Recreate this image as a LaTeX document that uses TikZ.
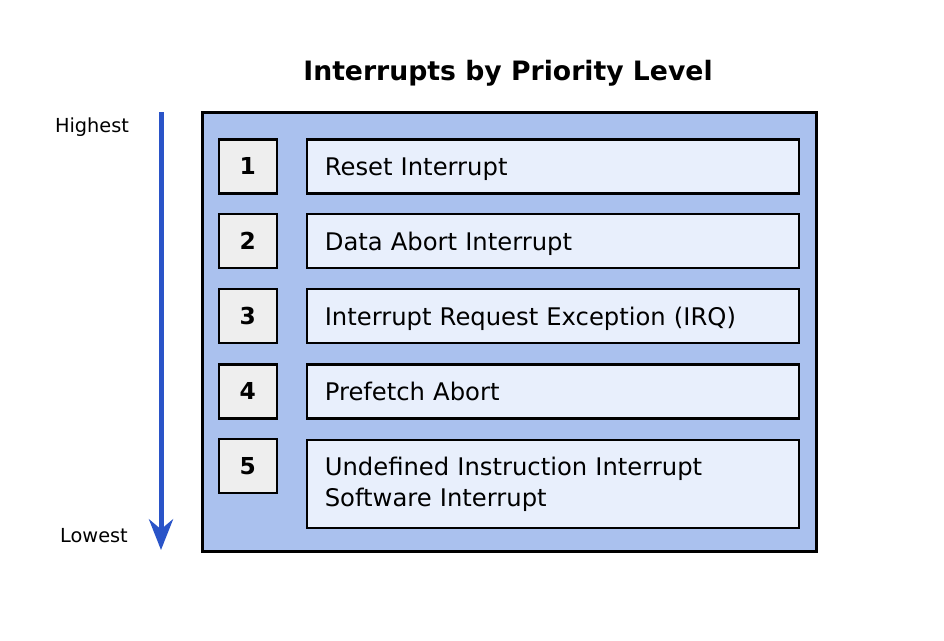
\documentclass[tikz,border=0pt]{standalone}
\usepackage{fontspec}
\setmainfont{DejaVu Sans}
\usepackage{tikz}
\usetikzlibrary{arrows.meta,positioning}
\definecolor{framefill}{RGB}{170,193,238}
\definecolor{numgray}{RGB}{238,238,238}
\definecolor{itemblue}{RGB}{232,239,252}
\definecolor{arrowblue}{RGB}{42,84,200}
\tikzset{every picture/.style={>=Stealth},
  numbox/.style={draw,line width=2pt,fill=numgray,minimum width=43.5pt,minimum height=40.5pt,inner sep=0pt,font=\fontsize{17.5}{20}\selectfont\bfseries},
  itembox/.style={draw,line width=2pt,fill=itemblue,minimum height=40.5pt,text width=342pt,inner xsep=13.5pt,align=left,font=\fontsize{18.2}{23.25}\selectfont},
  oneline/.style={text depth=0pt},
  rank/.style={font=\fontsize{14.5}{17}\selectfont}}

\begin{document}
\begin{tikzpicture}[x=0.75pt,y=-0.75pt]
  \useasboundingbox (0,0) rectangle (944,640);
  \node (title) at (508,73) {\fontsize{20}{24}\selectfont\bfseries Interrupts by Priority Level};
  \node (frame) [draw,line width=2.25pt,fill=framefill,anchor=north west,minimum width=460.5pt,minimum height=329.25pt] at (200.5,110.5) {};
  \node (n1) [numbox,anchor=north west] at (217.5,138) {1};
  \node (n2) [numbox,anchor=north west] at (217.5,212.5) {2};
  \node (n3) [numbox,anchor=north west] at (217.5,287.5) {3};
  \node (n4) [numbox,anchor=north west] at (217.5,363) {4};
  \node (n5) [numbox,anchor=north west] at (217.5,437.5) {5};
  \node (t1) [itembox,oneline,anchor=north west] at (305.5,138) {Reset Interrupt};
  \node (t2) [itembox,oneline,anchor=north west] at (305.5,212.5) {Data Abort Interrupt};
  \node (t3) [itembox,oneline,anchor=north west] at (305.5,287.5) {Interrupt Request Exception (IRQ)};
  \node (t4) [itembox,oneline,anchor=north west] at (305.5,363) {Prefetch Abort};
  \node (t5) [itembox,anchor=north west,minimum height=66pt] at (305.5,438.5) {Undefined Instruction Interrupt\\Software Interrupt};
  \node (high) [rank] at (92,127) {Highest};
  \node (low) [rank] at (94,536) {Lowest};
  \coordinate (top) at (161,112);
  \coordinate (bottom) at (161,550);
  \draw [->,arrowblue,line width=3.75pt,-{Stealth[length=23pt,width=18pt]}] (top) -- (bottom);
\end{tikzpicture}
\end{document}
